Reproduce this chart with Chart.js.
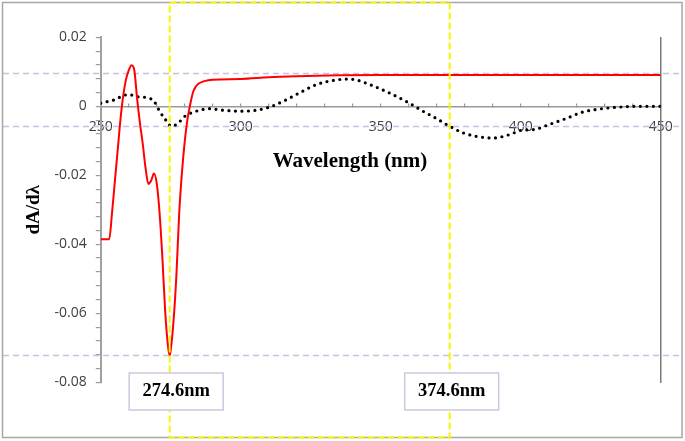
<!DOCTYPE html>
<html>
<head>
<meta charset="utf-8">
<title>dA/dλ</title>
<script src="https://cdn.jsdelivr.net/npm/chart.js@4.4.1/dist/chart.umd.min.js"></script>
<style>
  html, body { margin: 0; padding: 0; background: #fff; }
  canvas { display: block; }
</style>
</head>
<body>
<canvas id="derivChart" width="685" height="441"></canvas>
<script>
// --- data ---
// red curve (solid)
const redWavelengths = [250, 253, 254, 255, 256, 257, 258, 259, 260, 261, 262, 263, 264, 265, 266, 267, 268, 269, 270,
    271, 272, 273, 274, 274.6, 275, 276, 277, 278, 279, 280, 281, 282, 283, 284, 285, 287, 290, 300, 310, 320, 335, 350, 450];
const redValues = [-0.0385, -0.0385, -0.031, -0.022, -0.013, -0.004, 0.003, 0.0078, 0.0105, 0.0119, 0.0103, 0.002, -0.005,
    -0.011, -0.018, -0.0225, -0.0215, -0.0195, -0.0225, -0.031, -0.044, -0.0595, -0.0695, -0.0722, -0.0705, -0.062, -0.049,
    -0.031, -0.019, -0.01, -0.0035, 0.0008, 0.0042, 0.0058, 0.0066, 0.0073, 0.0077, 0.0079, 0.0084, 0.0087, 0.009, 0.0091, 0.0091];

// black curve (dotted)
const dotWavelengths = [250, 252, 255, 258, 260, 263, 267, 269, 271, 273.5, 275.2, 277.6, 280, 282.4, 286, 289, 293, 300,
    305, 310, 315, 321, 327, 333, 338, 341, 347, 353, 360, 365, 370, 374.6, 379.4, 384, 390, 396, 400, 405, 410, 416, 422,
    428, 434, 442, 450];
const dotValues = [0.0009, 0.0013, 0.0019, 0.0031, 0.0034, 0.0028, 0.0024, 0.0015, -0.0014, -0.0043, -0.0058, -0.0049,
    -0.0029, -0.0019, -0.001, -0.0007, -0.0011, -0.0014, -0.0012, -0.0003, 0.0014, 0.0039, 0.0063, 0.0075, 0.0079, 0.0077,
    0.006, 0.0039, 0.001, -0.0014, -0.0036, -0.0058, -0.0077, -0.0087, -0.0092, -0.0082, -0.007, -0.0067, -0.0053, -0.0036,
    -0.0017, -0.0008, -0.0003, 0, 0];

const xTickLabels = [250, 300, 350, 400, 450];
const yTickLabels = [0.02, 0, -0.02, -0.04, -0.06, -0.08];

// marked wavelengths and the dashed guide levels
const markerWavelengths = [274.6, 374.6];
const markerLabels = ['274.6nm', '374.6nm'];
const guideLevels = [0.0096, -0.0058, -0.0722];

const serif = '"Liberation Serif", "Times New Roman", serif';
const sans = '"Open Sans", "Liberation Sans", sans-serif';

const toPoints = (xs, ys) => xs.map((x, i) => ({ x: x, y: ys[i] }));

// keep tick label padding from shrinking the plot area
const noPadding = s => { s.paddingLeft = 0; s.paddingRight = 0; s.paddingTop = 0; s.paddingBottom = 0; };

// guide lines, frame, labels
const overlay = {
    id: 'overlay',
    beforeDatasetsDraw(chart) {
        const { ctx, scales: { y } } = chart;
        ctx.save();
        ctx.strokeStyle = '#c9c2de';
        ctx.lineWidth = 1.5;
        ctx.setLineDash([6, 4]);
        guideLevels.forEach(v => {
            const py = Math.round(y.getPixelForValue(v)) + 0.5;
            ctx.beginPath();
            ctx.moveTo(3, py);
            ctx.lineTo(681, py);
            ctx.stroke();
        });
        ctx.restore();
    },
    afterDraw(chart) {
        const { ctx, scales: { x } } = chart;
        ctx.save();

        // outer frame
        ctx.strokeStyle = '#a6a6a6';
        ctx.lineWidth = 1.5;
        ctx.strokeRect(2.5, 2.5, 679.5, 435);

        // yellow window between the two markers
        const x1 = x.getPixelForValue(markerWavelengths[0]);
        const x2 = x.getPixelForValue(markerWavelengths[1]);
        ctx.strokeStyle = '#f5f500';
        ctx.lineWidth = 2;
        ctx.setLineDash([7, 3]);
        ctx.strokeRect(x1, 2.5, x2 - x1, 435);
        ctx.setLineDash([]);

        // label boxes
        const shift = [6.5, 2];
        ctx.font = 'bold 18.5px ' + serif;
        ctx.textAlign = 'center';
        ctx.textBaseline = 'middle';
        markerWavelengths.forEach((w, i) => {
            const cx = x.getPixelForValue(w) + shift[i];
            ctx.fillStyle = '#fff';
            ctx.fillRect(cx - 47, 373, 94, 37);
            ctx.strokeStyle = '#cdc6e1';
            ctx.lineWidth = 1.5;
            ctx.strokeRect(cx - 47, 373, 94, 37);
            ctx.fillStyle = '#000';
            ctx.fillText(markerLabels[i], cx, 391);
        });

        // x axis title
        ctx.font = 'bold 21px ' + serif;
        ctx.fillText('Wavelength (nm)', 350, 161.5);
        ctx.restore();
    }
};

const ctx = document.getElementById('derivChart').getContext('2d');
new Chart(ctx, {
    type: 'line',
    data: {
        datasets: [{
            label: 'red',
            data: toPoints(redWavelengths, redValues),
            borderColor: '#ff0000',
            borderWidth: 2,
            pointRadius: 0,
            cubicInterpolationMode: 'monotone',
            fill: false
        }, {
            label: 'dotted',
            data: toPoints(dotWavelengths, dotValues),
            borderColor: '#000000',
            borderWidth: 3.2,
            borderDash: [0, 6.5],
            borderCapStyle: 'round',
            pointRadius: 0,
            cubicInterpolationMode: 'monotone',
            fill: false
        }]
    },
    options: {
        responsive: false,
        animation: false,
        events: [],
        layout: { padding: { top: 37.3, bottom: 58.7, left: 0, right: 0 } },
        plugins: { legend: { display: false }, tooltip: { enabled: false } },
        scales: {
            x: {
                type: 'linear',
                min: 250,
                max: 450,
                position: { y: 0 },
                ticks: {
                    stepSize: 10,
                    autoSkip: false,
                    maxRotation: 0,
                    padding: 16,
                    color: '#404040',
                    font: { family: sans, size: 14 },
                    callback: v => xTickLabels.includes(v) ? String(v) : ''
                },
                grid: { drawOnChartArea: false, tickLength: -4, color: '#9a9a9a', lineWidth: 1.2 },
                border: { color: '#9a9a9a', width: 1.5 },
                afterFit: noPadding
            },
            y: {
                type: 'linear',
                min: -0.08,
                max: 0.02,
                position: 'left',
                ticks: {
                    stepSize: 0.004,
                    autoSkip: false,
                    padding: 9,
                    color: '#404040',
                    font: { family: sans, size: 14 },
                    callback: v => {
                        const hit = yTickLabels.find(t => Math.abs(t - v) < 1e-9);
                        return hit === undefined ? '' : String(hit);
                    }
                },
                grid: { drawOnChartArea: false, tickLength: 5, color: '#9a9a9a', lineWidth: 1.2 },
                border: { color: '#a0a0a0', width: 2 },
                title: {
                    display: true,
                    text: 'dA/dλ',
                    color: '#000',
                    font: { family: serif, size: 19, weight: 'bold' },
                    padding: { top: 22.6, bottom: 0 }
                },
                afterFit: s => { s.width = 100.8; noPadding(s); }
            },
            y2: {
                type: 'linear',
                min: -0.08,
                max: 0.02,
                position: 'right',
                ticks: { display: false },
                grid: { display: false },
                border: { display: true, color: '#7a7a7a', width: 1.5 },
                afterFit: s => { s.width = 24.2; noPadding(s); }
            }
        }
    },
    plugins: [overlay]
});
</script>
</body>
</html>
